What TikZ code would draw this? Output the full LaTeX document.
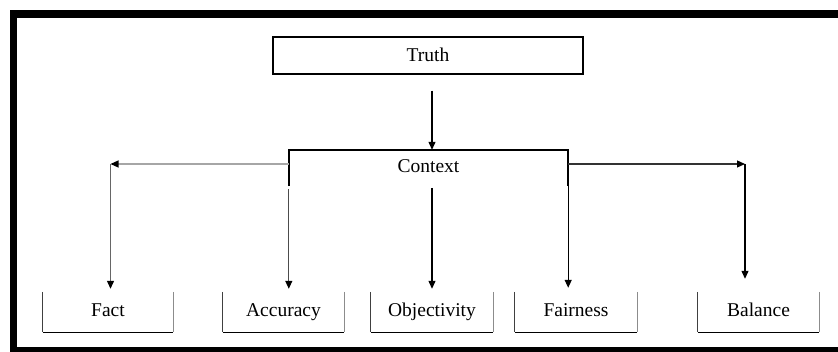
\documentclass[tikz,border=0pt]{standalone}
\usepackage{fontspec}
\setmainfont{Liberation Serif}
\usetikzlibrary{arrows.meta}
\begin{document}
\begin{tikzpicture}[x=1pt,y=-1pt,
  lbl/.style={font=\fontsize{19.5}{22}\selectfont, inner sep=0pt, text height=13pt, text depth=4pt},
  topbox/.style={lbl, draw, line width=1.3pt, minimum width=310pt, minimum height=37pt},
  openbox/.style={lbl, minimum height=40pt},
  arr/.style={line width=1.2pt, -{Triangle[length=8pt,width=7pt,color=black,fill=black]}},
  frame/.style={line width=7.5pt, black},
  lside/.style={line width=1.2pt, black!75},
  rside/.style={line width=1.2pt, black!45},
  bside/.style={line width=1.3pt, black}
]
\useasboundingbox (0,0) rectangle (838,352);
\clip (0,0) rectangle (838,352);
\draw[frame] (870,14) -- (13.5,14) -- (13.5,350.5) -- (870,350.5);

\node[topbox] (truth) at (428,55.5) {\raisebox{-2pt}{Truth}};
\node[lbl, minimum width=279pt, minimum height=36pt] (context) at (428.5,168) {Context};
\draw[line width=1.5pt] (context.south west) -- (context.north west) -- (context.north east) -- (context.south east);

\node[openbox, minimum width=130pt] (fact) at (108,312) {Fact};
\node[openbox, minimum width=121pt] (accuracy) at (283.5,312) {Accuracy};
\node[openbox, minimum width=122pt] (objectivity) at (432,312) {Objectivity};
\node[openbox, minimum width=122pt] (fairness) at (576,312) {Fairness};
\node[openbox, minimum width=121pt] (balance) at (758.5,312) {Balance};

\foreach \n in {fact,accuracy,objectivity,fairness,balance}{
  \draw[lside] (\n.north west) -- (\n.south west);
  \draw[rside] (\n.north east) -- (\n.south east);
  \draw[bside] (\n.south west) -- (\n.south east);
}

% Truth -> Context
\draw[arr, shorten <=16pt] ([xshift=4pt]truth.south) -- ([xshift=4pt]truth.south |- context.north);

% left branch
\coordinate (lc) at (110.5,164);
\draw[arr, black!35] (lc -| context.west) -- (lc);
\draw[arr, black!60, shorten >=3pt] (lc) -- (lc |- fact.north);

% right branch
\coordinate (rc) at (745,164);
\draw[arr, black!80] (rc -| context.east) -- (rc);
\draw[arr, shorten >=13pt] (rc) -- (rc |- balance.north);

% direct arrows
\draw[arr, black!70, shorten >=3pt] ([yshift=-3pt]context.south west) -- (context.south west |- accuracy.north);
\coordinate (ox) at (432,188);
\draw[arr, shorten >=3pt] (ox) -- (ox |- objectivity.north);
\draw[arr, shorten >=4pt] (context.south east) -- (context.south east |- fairness.north);
\end{tikzpicture}
\end{document}
